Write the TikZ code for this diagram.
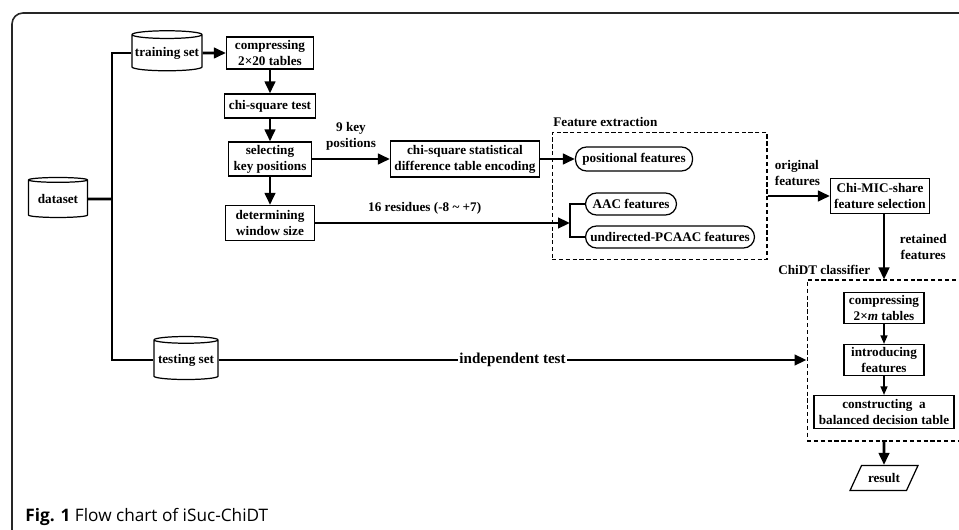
\documentclass[tikz,border=0pt]{standalone}
\usepackage{fontspec}
\setmainfont{Liberation Serif}
\newfontfamily\capfont{Open Sans}
\usepackage{tikz}
\usetikzlibrary{shapes.geometric,arrows.meta,calc}
\tikzstyle{tsBold} = [
    text=black,
    font=\bfseries\fontsize{7.5}{9.1}\selectfont
]
\tikzstyle{tsWraptext} = [
    tsBold,
    text centered,
    align=center
]
\tikzstyle{tsBox} = [
    rectangle,
    tsWraptext,
    draw=black,
    line width=0.7pt,
    inner sep=1pt]
\tikzstyle{tsPill} = [
    tsBox,
    rounded corners=0.22cm]
\tikzstyle{tsDisk} = [
    cylinder,
    shape border rotate=90,
    aspect=0.12,
    tsWraptext,
    draw=black,
    line width=0.7pt,
    inner sep=0pt]
\tikzstyle{tsGroup} = [
    rectangle,
    draw=black,
    dash pattern=on 2.4pt off 1.5pt,
    line width=0.6pt]
\tikzstyle{tsLine} = [
    line width=1.5pt]
\tikzstyle{tsArrow} = [
    tsLine,
    -{Triangle[length=0.24cm,width=0.21cm]}]
\tikzstyle{tsThinArrow} = [
    line width=0.7pt,
    -{Triangle[length=0.17cm,width=0.14cm]}]

\begin{document}
\begin{tikzpicture}[x=0.02cm, y=-0.02cm]

        \useasboundingbox (0,0) rectangle (959,530);

        % outer frame
        \draw[line width=0.9pt, black!85, rounded corners=0.22cm] (12,540) -- (12,13) -- (970,13);

        % sources
        \node[tsDisk, minimum width=1.18cm, minimum height=0.8cm] (dataset) at (58,199) {dataset};
        \node[tsDisk, minimum width=1.40cm, minimum height=0.8cm] (train) at (167,53) {training set};
        \node[tsDisk, minimum width=1.28cm, minimum height=0.86cm] (test) at (186,360) {testing set};

        % left column
        \node[tsBox, minimum width=1.74cm, minimum height=0.64cm] (comp20) at (270,53) {compressing\\2×20 tables};
        \node[tsBox, minimum width=1.82cm, minimum height=0.48cm] (chitest) at (270,106) {chi-square test};
        \node[tsBox, minimum width=1.66cm, minimum height=0.68cm] (select) at (270,159) {selecting\\key positions};
        \node[tsBox, minimum width=1.78cm, minimum height=0.70cm] (window) at (270,223) {determining\\window size};
        \node[tsBox, minimum width=2.98cm, minimum height=0.72cm] (chistat) at (465,159) {chi-square statistical\\difference table encoding};

        % feature extraction
        \node[tsGroup, minimum width=4.30cm, minimum height=2.54cm] (featbox) at (659.5,196) {};
        \node[tsBold, anchor=west, inner sep=0pt] (featlbl) at (553,122) {Feature extraction};
        \node[tsPill, minimum width=2.34cm, minimum height=0.48cm] (posfeat) at (634,159) {positional features};
        \node[tsPill, minimum width=1.82cm, minimum height=0.44cm] (aac) at (631,204) {AAC features};
        \node[tsPill, minimum width=3.38cm, minimum height=0.44cm] (pcaac) at (670,237) {undirected-PCAAC features};
        \coordinate (brk) at (570,223);

        \node[tsBox, minimum width=1.98cm, minimum height=0.70cm] (chimic) at (880,196) {Chi-MIC-share\\feature selection};

        % ChiDT classifier
        \node[tsGroup, minimum width=3.10cm, minimum height=3.22cm] (chidt) at (884.5,360.5) {};
        \node[tsBold, anchor=west, inner sep=0pt] (chidtlbl) at (778,270) {ChiDT classifier};
        \node[tsBox, minimum width=1.60cm, minimum height=0.62cm] (compm) at (884,308) {compressing\\2×\textit{m} tables};
        \node[tsBox, minimum width=1.60cm, minimum height=0.62cm] (intro) at (884,360) {introducing\\features};
        \node[tsBox, minimum width=2.80cm, minimum height=0.66cm] (build) at (884,412) {constructing~ a\\balanced decision table};
        \node[trapezium, trapezium left angle=62, trapezium right angle=118, trapezium stretches=true,
              draw=black, line width=0.7pt, tsWraptext, minimum width=1.36cm, minimum height=0.5cm] (result) at (884,478) {result};

        % connectors
        \coordinate (trunk) at (112,199);
        \draw[tsLine] (train.west) -| (trunk) |- (test.west);
        \draw[tsLine] (dataset.east) -- (trunk);
        \draw[tsArrow] (train.east) -- (comp20.west);
        \draw[tsArrow] (comp20) -- (chitest);
        \draw[tsArrow] (chitest) -- (select);
        \draw[tsArrow] (select) -- (window);
        \draw[tsArrow] (select.east) -- node[tsWraptext, above=1pt] {9 key\\positions} (chistat.west);
        \draw[tsArrow] (chistat.east) -- (posfeat.west);
        \draw[tsArrow] (window.east) -- node[tsBold, above=1pt, pos=0.43] {16 residues (-8 \textasciitilde{} +7)} (brk);
        \draw[line width=0.7pt] (aac.west) -| (brk) |- (pcaac.west);
        \draw[tsArrow] (featbox.east) -- node[tsBold, align=left, above=2pt, pos=0.48] {original\\features} (chimic.west);
        \draw[tsArrow] (chimic.south -| compm) -- node[tsWraptext, right=5pt] {retained\\features} (compm |- chidt.north);
        \draw[tsThinArrow] (compm) -- (intro);
        \draw[tsThinArrow] (intro) -- (build);
        \draw[tsArrow] (chidt.south -| result) -- (result);
        \draw[tsArrow] (test.east) -- node[tsBold, fill=white, inner sep=1pt, midway] {\fontsize{8.6}{10}\selectfont independent test} (test.east -| chidt.west);

        % caption
        \node[anchor=base west, inner sep=0pt] (caption) at (25,521) {\capfont\fontsize{9.8}{11}\selectfont\textbf{Fig. 1} Flow chart of iSuc-ChiDT};

\end{tikzpicture}
\end{document}
